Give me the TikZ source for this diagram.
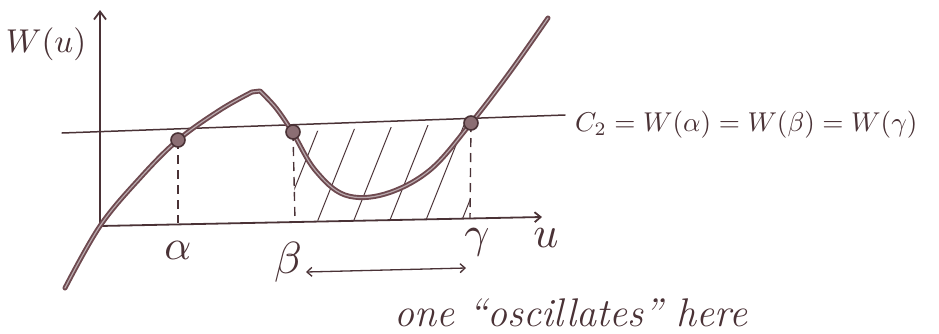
\documentclass[tikz,border=0pt]{standalone}
\usepackage{graphicx}
\usepackage{tikz}
\usetikzlibrary{arrows.meta}
\definecolor{ink}{HTML}{4A3236}
\definecolor{inkcurve}{HTML}{6E4A50}
\definecolor{inklight}{HTML}{B8A8AC}
\begin{document}
\begin{tikzpicture}[x=1pt,y=-1pt,
  axisline/.style={draw=ink,line width=1.8pt,line cap=round},
  dashline/.style={draw=ink,line width=1.4pt,dash pattern=on 9pt off 6pt},
  hatchline/.style={draw=ink,line width=1pt},
  curveback/.style={draw=inkcurve,line width=5pt,line cap=round,line join=round},
  curvefront/.style={draw=inklight,line width=1.2pt,line cap=round,line join=round},
  dotmark/.style={circle,draw=ink,fill=inkcurve!80,line width=1.6pt,minimum size=14pt,inner sep=0pt},
  lbl/.style={text=ink,inner sep=0pt},
]
\useasboundingbox (0,0) rectangle (939,333);
% key coordinates
\coordinate (O) at (100,226);
\coordinate (ytop) at (100,10);
\coordinate (xend) at (542,217);
\coordinate (Lleft) at (62,133);
\coordinate (Lright) at (565,115);
\coordinate (A) at (178,140);
\coordinate (B) at (293,132);
\coordinate (G) at (471,123);
\coordinate (Ab) at (178,223);
\coordinate (Bb) at (295,221);
\coordinate (Gb) at (470,218);
% hatching
\begin{scope}
  \clip (B) -- (G) -- (Gb) -- (Bb) -- cycle;
  \foreach \s in {0,36,...,260} {
    \draw[hatchline] (280+\s,225) -- (326+\s,110);
  }
\end{scope}
% axes
\draw[axisline,-{Straight Barb[length=8pt,width=12pt]}] (O) -- (ytop);
\draw[axisline,-{Straight Barb[length=6pt,width=10pt]}] (O) -- (xend);
% level line
\draw[axisline,line width=1.5pt] (Lleft) -- (Lright);
% dashed drops
\draw[dashline] (A) -- (Ab);
\draw[dashline] (B) -- (Bb);
\draw[dashline] (G) -- (Gb);
% curve
\draw[curveback] plot[smooth,tension=0.6] coordinates {(65,288) (100,226) (140,178) (178,140) (220,110) (252,92)}
  -- (260,91) -- plot[smooth,tension=0.6] coordinates {(260,91) (276,108) (293,133) (315,170) (345,195) (385,194) (430,170) (471,123) (510,72) (548,18)};
\draw[curvefront] plot[smooth,tension=0.6] coordinates {(65,288) (100,226) (140,178) (178,140) (220,110) (252,92)}
  -- (260,91) -- plot[smooth,tension=0.6] coordinates {(260,91) (276,108) (293,133) (315,170) (345,195) (385,194) (430,170) (471,123) (510,72) (548,18)};
% points
\node[dotmark] (pa) at (A) {};
\node[dotmark] (pb) at (B) {};
\node[dotmark] (pg) at (G) {};
% labels
\node[lbl] (wu) at (46,44) {\scalebox{3.3}{$W(u)$}};
\node[lbl] (la) at (178,250) {\scalebox{4.2}{$\alpha$}};
\node[lbl] (lb) at (288,262) {\scalebox{4.5}{$\beta$}};
\node[lbl] (lg) at (477,242) {\scalebox{4.4}{$\gamma$}};
\node[lbl] (lu) at (546,238) {\scalebox{4.4}{$u$}};
\node[lbl,anchor=west] (c2) at (575,125) {\scalebox{2.72}{$C_2 = W(\alpha)=W(\beta)=W(\gamma)$}};
\coordinate (arL) at (306,272);
\coordinate (arR) at (466,268);
\draw[axisline,line width=1.3pt,{Straight Barb[length=5pt,width=9pt]}-{Straight Barb[length=5pt,width=9pt]}] (arL) -- (arR);
\node[lbl,font=\itshape\fontsize{40}{44}\selectfont] (note) at (571,313) {one ``oscillates'' here};
\end{tikzpicture}
\end{document}
